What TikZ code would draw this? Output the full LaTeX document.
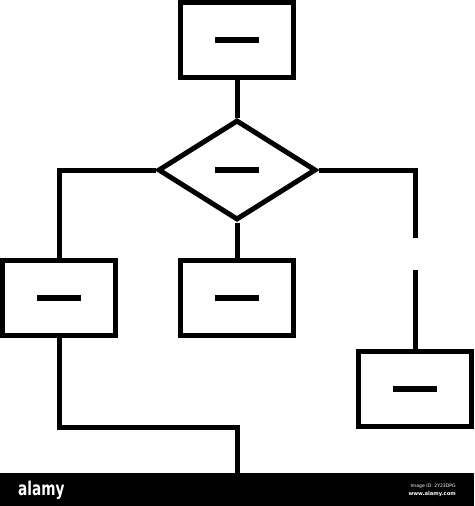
\documentclass[tikz,border=0pt]{standalone}
\usepackage{fontspec}
\setmainfont{DejaVu Sans}
\newfontfamily\logofont{DejaVu Sans Condensed}
\usetikzlibrary{shapes.geometric}
\begin{document}
\begin{tikzpicture}[x=1pt,y=-1pt,
  line join=miter,
  flow/.style={line width=5pt,black},
  boxnode/.style={draw,flow,rectangle,minimum width=113pt,minimum height=75pt,inner sep=0pt,fill=white},
  decnode/.style={draw,flow,diamond,minimum width=158pt,minimum height=100pt,inner sep=0pt,fill=white},
  dashmark/.style={}]
\useasboundingbox (0,0) rectangle (474,506);
% nodes
\node[boxnode] (top) at (237,40) {\rule{44pt}{6pt}};
\node[decnode] (dia) at (237,170) {\rule{44pt}{6pt}};
\node[boxnode] (lbox) at (59,298) {\rule{44pt}{6pt}};
\node[boxnode] (mbox) at (237,298) {\rule{44pt}{6pt}};
\node[boxnode] (rbox) at (415,389) {\rule{44pt}{6pt}};
% helper coordinates
\coordinate (rgap1) at (415,238);
\coordinate (rgap2) at (415,270);
\coordinate (join) at (237,427);
\coordinate (bend) at (237,476);
% connectors
\draw[flow] (top.south) -- (dia.north);
\draw[flow] (dia.west) -| (lbox.north);
\draw[flow] (dia.south) -- (mbox.north);
\draw[flow] (dia.east) -| (rgap1);
\draw[flow] (rgap2) -- (rbox.north);
\draw[flow] (lbox.south) |- (join) -- (bend);
% watermark bar
\fill[black] (0,473) rectangle (474,506);
\node[text=white,font=\logofont\bfseries\fontsize{19}{19}\selectfont,anchor=base west,inner sep=0pt,xscale=0.8] (logo) at (18,495) {alamy};
\node[text=white,font=\fontsize{4.6}{5}\selectfont,anchor=base east,inner sep=0pt] (imgid) at (456,487) {Image ID: 2Y23DPG};
\node[text=white,font=\bfseries\fontsize{5.2}{6}\selectfont,anchor=base east,inner sep=0pt] (www) at (456,495) {www.alamy.com};
\end{tikzpicture}
\end{document}
